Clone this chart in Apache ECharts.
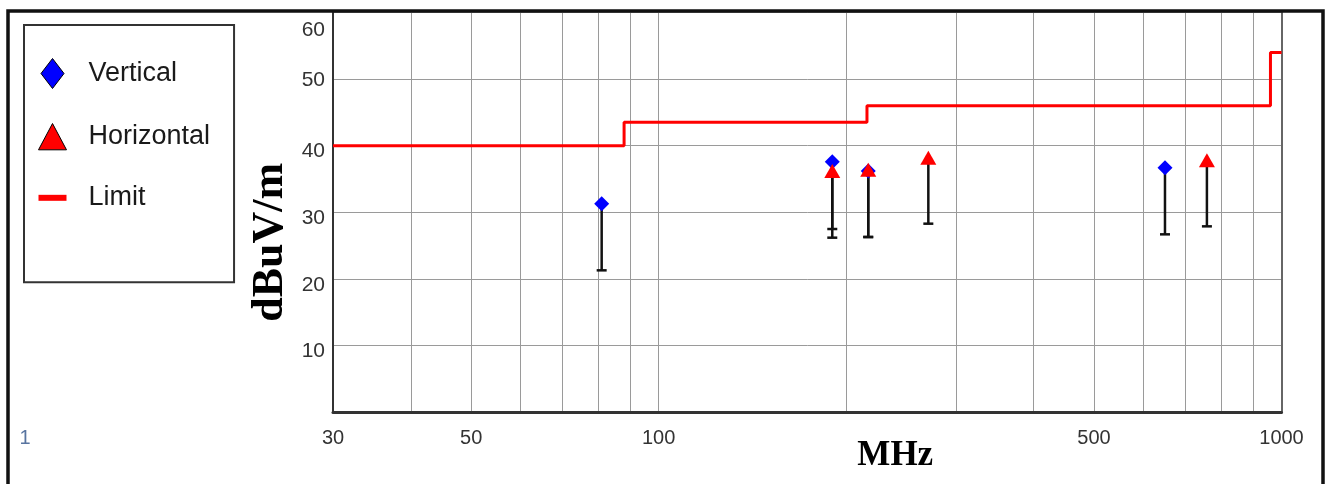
<!DOCTYPE html>
<html>
<head>
<meta charset="utf-8">
<script src="https://cdn.jsdelivr.net/npm/echarts@6/dist/echarts.min.js"></script>
<style>
  html, body { margin: 0; padding: 0; background: #fff; }
  #chart { width: 1333px; height: 484px; }
</style>
</head>
<body>
<div id="chart"></div>
<script>
// Radiated emission readings, frequency in MHz, level in dBuV/m.
// Each reading has a peak (marker) and a lower reading (end of the stem).
const verticalFreq = [81, 190, 217, 650];
const verticalPeak = [31.3, 37.6, 36.2, 36.7];
const verticalLow = [21.3, 26.2, 26.3, 26.7];

const horizontalFreq = [190, 217, 271, 759];
const horizontalPeak = [36.2, 36.4, 38.2, 37.8];
const horizontalLow = [27.5, 26.3, 28.3, 27.9];

// Stepped limit line: level holds from each frequency to the next one.
const limitFreq = [30, 88, 216, 960, 1000];
const limitLevel = [40, 43.5, 46, 54, 54];

// Frequency axis: grid lines and labelled frequencies
const freqGrid = [30, 40, 50, 60, 70, 80, 90, 100, 200, 300, 400, 500, 600, 700, 800, 900, 1000];
const freqLabels = [30, 50, 100, 500, 1000];
// Level axis labels
const levelTicks = [10, 20, 30, 40, 50, 60];

const lg = Math.log10;
const SANS = 'Liberation Sans, Arial, sans-serif';
const SERIF = 'Liberation Serif, Times New Roman, serif';

function stemItem(params, api) {
  const top = api.coord([api.value(0), api.value(1)]);
  const bot = api.coord([api.value(0), api.value(2)]);
  return {
    type: 'group',
    children: [
      { type: 'line', shape: { x1: top[0], y1: top[1], x2: bot[0], y2: bot[1] },
        style: { stroke: '#111', lineWidth: 2.5 } },
      { type: 'line', shape: { x1: bot[0] - 5, y1: bot[1], x2: bot[0] + 5, y2: bot[1] },
        style: { stroke: '#111', lineWidth: 2.5 } }
    ]
  };
}

// Label offsets below their grid lines
const levelLabelStyle = { 10: 'a', 20: 'a', 30: 'a', 40: 'a', 50: 'b', 60: 'c' };

const chart = echarts.init(document.getElementById('chart'));
chart.setOption({
  animation: false,
  backgroundColor: '#fff',
  textStyle: { fontFamily: SANS },
  grid: { left: 333, right: 51.5, top: 12.4, bottom: 71.7, outerBoundsMode: 'none' },
  legend: {
    orient: 'vertical',
    left: 24,
    top: 25,
    padding: [33, 24, 71, 14],
    itemWidth: 28,
    itemHeight: 30,
    itemGap: 34,
    borderColor: '#333',
    borderWidth: 2,
    selectedMode: false,
    formatter: n => '{t|' + n + '}',
    textStyle: {
      fontFamily: SANS, fontSize: 27, color: '#1a1a1a',
      rich: { t: { fontFamily: SANS, fontSize: 27, color: '#1a1a1a', lineHeight: 30, padding: [0, 0, 0, 17] } }
    },
    data: [
      { name: 'Vertical', icon: 'path://M11.5,0L23,15L11.5,30L0,15Z',
        itemStyle: { color: '#0000ff', borderColor: '#000', borderWidth: 1 } },
      { name: 'Horizontal', icon: 'path://M13.3,0L26.6,25L0,25Z',
        itemStyle: { color: '#ff0000', borderColor: '#000', borderWidth: 1 } },
      { name: 'Limit', icon: 'path://M0,0h28v6h-28z',
        itemStyle: { color: '#ff0000', borderWidth: 0 } }
    ]
  },
  xAxis: {
    type: 'value',
    min: lg(30),
    max: lg(1000),
    axisLine: { show: true, onZero: false, lineStyle: { color: '#333', width: 3 } },
    axisTick: { show: false, customValues: freqGrid.map(lg) },
    splitLine: { show: true, lineStyle: { color: '#9a9a9a', width: 1 } },
    axisLabel: {
      customValues: freqLabels.map(lg),
      formatter: v => String(Math.round(Math.pow(10, v))),
      fontFamily: SANS, fontSize: 20, color: '#333', margin: 16
    },
    name: 'MHz',
    nameLocation: 'middle',
    nameGap: 26,
    nameMoveOverlap: false,
    nameTextStyle: { fontFamily: SERIF, fontWeight: 'bold', fontSize: 35, color: '#000', padding: [0, 0, 0, 176] }
  },
  yAxis: [{
    type: 'value',
    min: 0,
    max: 60,
    interval: 10,
    axisLine: { show: true, lineStyle: { color: '#333', width: 2 } },
    axisTick: { show: false },
    splitLine: { show: true, lineStyle: { color: '#9a9a9a', width: 1 } },
    axisLabel: {
      margin: 8,
      fontFamily: SANS, fontSize: 21, color: '#333',
      formatter: v => levelTicks.indexOf(v) >= 0 ? '{' + levelLabelStyle[v] + '|' + v + '}' : '',
      rich: {
        a: { fontFamily: SANS, fontSize: 21, color: '#333', padding: [12, 0, 0, 0] },
        b: { fontFamily: SANS, fontSize: 21, color: '#333', padding: [2, 0, 0, 0] },
        c: { fontFamily: SANS, fontSize: 21, color: '#333', padding: [36, 0, 0, 0] }
      }
    },
    name: 'dBuV/m',
    nameLocation: 'middle',
    nameGap: 40,
    nameRotate: 90,
    nameMoveOverlap: false,
    nameTextStyle: { fontFamily: SERIF, fontWeight: 'bold', fontSize: 44, color: '#000', padding: [0, 60, 0, 0] }
  }, {
    type: 'value',
    position: 'right',
    min: 0,
    max: 60,
    interval: 10,
    axisLine: { show: true, lineStyle: { color: '#666', width: 2 } },
    axisTick: { show: false },
    axisLabel: { show: false },
    splitLine: { show: false }
  }],
  series: [
    {
      name: 'Limit',
      type: 'line',
      step: 'end',
      symbol: 'none',
      silent: true,
      z: 2,
      lineStyle: { color: '#ff0000', width: 3 },
      itemStyle: { color: '#ff0000' },
      data: limitFreq.map((f, i) => [lg(f), limitLevel[i]])
    },
    {
      name: 'Vertical stems',
      type: 'custom',
      renderItem: stemItem,
      silent: true,
      z: 3,
      encode: { x: 0, y: [1, 2] },
      data: verticalFreq.map((f, i) => [lg(f), verticalPeak[i], verticalLow[i]])
    },
    {
      name: 'Horizontal stems',
      type: 'custom',
      renderItem: stemItem,
      silent: true,
      z: 3,
      encode: { x: 0, y: [1, 2] },
      data: horizontalFreq.map((f, i) => [lg(f), horizontalPeak[i], horizontalLow[i]])
    },
    {
      name: 'Vertical',
      type: 'scatter',
      symbol: 'diamond',
      symbolSize: 15,
      z: 4,
      silent: true,
      itemStyle: { color: '#0000ff', opacity: 1 },
      data: verticalFreq.map((f, i) => [lg(f), verticalPeak[i]])
    },
    {
      name: 'Horizontal',
      type: 'scatter',
      symbol: 'triangle',
      symbolSize: [16, 14],
      z: 5,
      silent: true,
      itemStyle: { color: '#ff0000', opacity: 1 },
      data: horizontalFreq.map((f, i) => [lg(f), horizontalPeak[i]])
    }
  ],
  graphic: [
    {
      type: 'rect',
      silent: true,
      z: 100,
      shape: { x: 8, y: 11, width: 1315, height: 520 },
      style: { fill: 'none', stroke: '#111', lineWidth: 3.5 }
    },
    {
      type: 'text',
      silent: true,
      z: 100,
      style: { text: '1', x: 25, y: 438, textAlign: 'center', textVerticalAlign: 'middle',
               font: '20px ' + SANS, fill: '#5874a0' }
    }
  ]
});
</script>
</body>
</html>
